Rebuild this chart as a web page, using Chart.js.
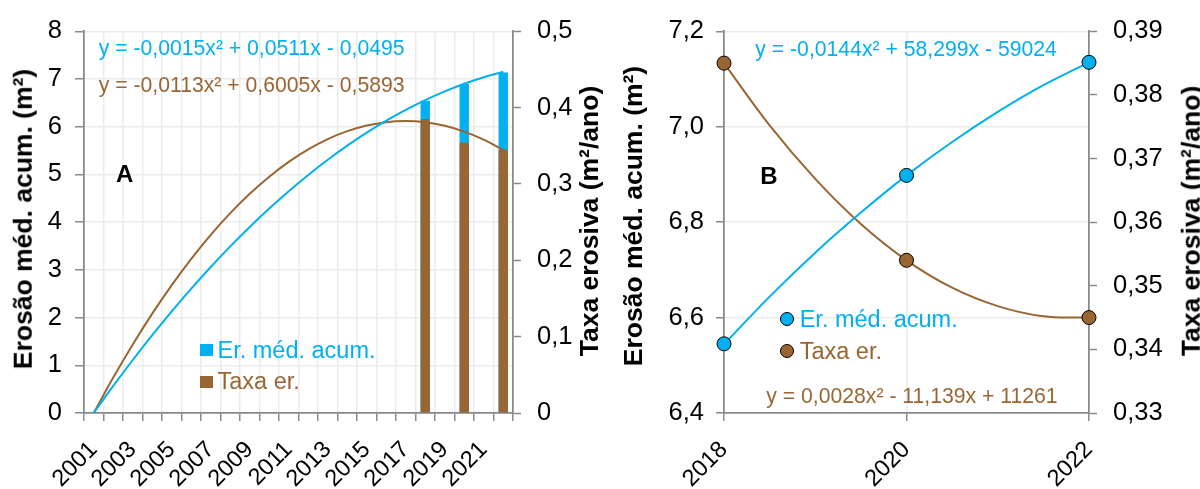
<!DOCTYPE html>
<html><head><meta charset="utf-8">
<script src="https://cdn.jsdelivr.net/npm/chart.js@4.4.1/dist/chart.umd.min.js"></script>
<style>
html,body{margin:0;padding:0;background:#fff;}
#wrap{position:relative;width:1200px;height:489px;overflow:hidden;font-family:'Liberation Sans',Arial,sans-serif;}
canvas{position:absolute;top:0;}
.t{position:absolute;white-space:nowrap;line-height:1;font-size:21.2px;transform:translateY(-50%);}
.lg{font-size:23.5px;}
.b{font-weight:bold;font-size:24px;color:#000;transform:translate(-50%,-50%);}
.rot{position:absolute;white-space:nowrap;font-weight:bold;font-size:26.5px;line-height:1;color:#000;transform:translate(-50%,-50%) rotate(-90deg);}
.sq{position:absolute;width:12.5px;height:12.5px;}
.dot{position:absolute;width:12px;height:12px;border-radius:50%;border:1px solid #000;transform:translate(-50%,-50%);}
</style></head><body>
<div id="wrap">
<canvas id="cA" width="600" height="489" style="left:0"></canvas>
<canvas id="cB" width="600" height="489" style="left:600px"></canvas>

<div class="t" style="left:98.7px;top:47.7px;color:#00B0F0">y = -0,0015x² + 0,0511x - 0,0495</div>
<div class="t" style="left:98.7px;top:85px;color:#996633">y = -0,0113x² + 0,6005x - 0,5893</div>
<div class="t b" style="left:124.7px;top:174px">A</div>
<div class="sq" style="left:200px;top:343.5px;background:#00B0F0"></div>
<div class="t lg" style="left:217.5px;top:351px;color:#00B0F0">Er. méd. acum.</div>
<div class="sq" style="left:200px;top:375.5px;background:#996633"></div>
<div class="t lg" style="left:217.5px;top:382px;color:#996633">Taxa er.</div>
<div class="rot" style="left:23px;top:219px">Erosão méd. acum. (m²)</div>
<div class="rot" style="left:589px;top:221px">Taxa erosiva (m²/ano)</div>

<div class="t" style="left:755.3px;top:49px;color:#00B0F0">y = -0,0144x² + 58,299x - 59024</div>
<div class="t" style="left:766.3px;top:396px;color:#996633">y = 0,0028x² - 11,139x + 11261</div>
<div class="t b" style="left:769px;top:176px">B</div>
<div class="dot" style="left:787px;top:319px;background:#00B0F0"></div>
<div class="t lg" style="left:799.7px;top:320px;color:#00B0F0">Er. méd. acum.</div>
<div class="dot" style="left:787px;top:351px;background:#996633"></div>
<div class="t lg" style="left:799.7px;top:352px;color:#996633">Taxa er.</div>
<div class="rot" style="left:633px;top:216px">Erosão méd. acum. (m²)</div>
<div class="rot" style="left:1191px;top:221px">Taxa erosiva (m²/ano)</div>
</div>
<script>
// ---- data ----
const yearsA = ['2001','2002','2003','2004','2005','2006','2007','2008','2009','2010','2011','2012','2013','2014','2015','2016','2017','2018','2019','2020','2021','2022'];
const obsYears = ['2018','2020','2022'];
const erAcum = [6.545, 6.898, 7.135];      // Er. méd. acum. (m²)
const taxaEr = [0.385, 0.354, 0.345];      // Taxa er. (m²/ano)
// trend curves, one value per year
const erAcumTrendA = [0, 0.567, 1.111, 1.632, 2.131, 2.607, 3.061, 3.492, 3.900, 4.286, 4.649, 4.990, 5.308, 5.603, 5.876, 6.126, 6.354, 6.559, 6.741, 6.901, 7.038, 7.153];
const taxaTrendA = [0, 0.0464, 0.0898, 0.1302, 0.1676, 0.2020, 0.2334, 0.2618, 0.2872, 0.3096, 0.3290, 0.3454, 0.3588, 0.3692, 0.3766, 0.3810, 0.3824, 0.3808, 0.3762, 0.3686, 0.3580, 0.3445];
// trend curves
const trendYearsB = [2018, 2018.5, 2019, 2019.5, 2020, 2020.5, 2021, 2021.5, 2022];
const erAcumTrendB = [6.544, 6.644, 6.736, 6.820, 6.898, 6.968, 7.031, 7.087, 7.135];
const taxaTrendB = [0.385, 0.3752, 0.3668, 0.3597, 0.354, 0.3497, 0.3468, 0.3452, 0.345];

const BLUE = '#00B0F0', BROWN = '#996633', AXIS = '#898989', GRID = '#EBEBEB';
Chart.defaults.font.family = "'Liberation Sans', Arial, sans-serif";
Chart.defaults.color = '#000';

const erBarsA = yearsA.map(y => { const k = obsYears.indexOf(y); return k < 0 ? null : erAcum[k]; });
const taxaBarsA = yearsA.map(y => { const k = obsYears.indexOf(y); return k < 0 ? null : taxaEr[k]; });
const comma = d => v => (v === 0 ? '0' : v.toFixed(d).replace('.', ','));
const TICKFONT = {size:25.5};
const XFONT = {size:23.5};

new Chart(document.getElementById('cA'), {
  type: 'bar',
  data: {
    labels: yearsA,
    datasets: [
      {type:'line', data: erAcumTrendA, yAxisID:'yL', borderColor:BLUE, borderWidth:2, pointRadius:0, tension:0.4, order:1},
      {type:'line', data: taxaTrendA, yAxisID:'yR', borderColor:BROWN, borderWidth:2, pointRadius:0, tension:0.4, order:2},
      {type:'bar', data: taxaBarsA, yAxisID:'yR', backgroundColor:BROWN, grouped:false, barPercentage:0.48, categoryPercentage:1, order:3},
      {type:'bar', data: erBarsA, yAxisID:'yL', backgroundColor:BLUE, grouped:false, barPercentage:0.48, categoryPercentage:1, order:4}
    ]
  },
  options: {
    responsive:false, animation:false, devicePixelRatio:1,
    layout:{padding:{top:24.5, left:0, right:0, bottom:0}},
    plugins:{legend:{display:false}, tooltip:{enabled:false}},
    scales:{
      x:{offset:true, grid:{offset:true, color:GRID, lineWidth:1.5, tickColor:AXIS, tickLength:8, tickWidth:1.5},
         border:{color:AXIS, width:1.75},
         ticks:{autoSkip:false, maxRotation:45, minRotation:45, padding:15, font:XFONT, callback:(v,i)=> i%2===0 ? yearsA[i] : ''},
         afterFit:s=>{s.height=76;}},
      yL:{position:'left', min:0, max:8, ticks:{stepSize:1, font:TICKFONT, padding:13},
          grid:{color:GRID, lineWidth:1.5, tickColor:AXIS, tickLength:9, tickWidth:1.5}, border:{color:AXIS, width:1.75},
          afterFit:s=>{s.width=84;}},
      yR:{position:'right', min:0, max:0.5, ticks:{stepSize:0.1, font:TICKFONT, padding:16, callback:comma(1)},
          grid:{drawOnChartArea:false, tickColor:AXIS, tickLength:8, tickWidth:1.5}, border:{color:AXIS, width:1.75},
          afterFit:s=>{s.width=87;}}
    }
  }
});

new Chart(document.getElementById('cB'), {
  type: 'scatter',
  data: {
    datasets: [
      {type:'line', data: trendYearsB.map((x,i)=>({x, y: erAcumTrendB[i]})), yAxisID:'yL', borderColor:BLUE, borderWidth:2, pointRadius:0, tension:0.4, order:3, clip:false},
      {type:'line', data: trendYearsB.map((x,i)=>({x, y: taxaTrendB[i]})), yAxisID:'yR', borderColor:BROWN, borderWidth:2, pointRadius:0, tension:0.4, order:4, clip:false},
      {type:'scatter', data: obsYears.map((y,i)=>({x:+y, y: erAcum[i]})), yAxisID:'yL', pointRadius:7, backgroundColor:BLUE, borderColor:'#000', borderWidth:1, order:1, clip:false},
      {type:'scatter', data: obsYears.map((y,i)=>({x:+y, y: taxaEr[i]})), yAxisID:'yR', pointRadius:7, backgroundColor:BROWN, borderColor:'#000', borderWidth:1, order:2, clip:false}
    ]
  },
  options: {
    responsive:false, animation:false, devicePixelRatio:1,
    layout:{padding:{top:24.3, left:0, right:0, bottom:0}},
    plugins:{legend:{display:false}, tooltip:{enabled:false}},
    scales:{
      x:{type:'linear', min:2018, max:2022, grid:{color:GRID, lineWidth:1.5, tickColor:AXIS, tickLength:8, tickWidth:1.5},
         border:{color:AXIS, width:1.75},
         ticks:{stepSize:2, maxRotation:45, minRotation:45, padding:15, font:XFONT, callback:v=>String(v)},
         afterFit:s=>{s.height=76;}},
      yL:{position:'left', min:6.4, max:7.2, ticks:{stepSize:0.2, font:TICKFONT, padding:12, callback:v=>v.toFixed(1).replace('.', ',')},
          grid:{color:GRID, lineWidth:1.5, tickColor:AXIS, tickLength:8, tickWidth:1.5}, border:{color:AXIS, width:1.75},
          afterFit:s=>{s.width=124;}},
      yR:{position:'right', min:0.33, max:0.39, ticks:{stepSize:0.01, font:TICKFONT, padding:16, callback:v=>v.toFixed(2).replace('.', ',')},
          grid:{drawOnChartArea:false, tickColor:AXIS, tickLength:8, tickWidth:1.5}, border:{color:AXIS, width:1.75},
          afterFit:s=>{s.width=111;}}
    }
  }
});
</script>
</body></html>
